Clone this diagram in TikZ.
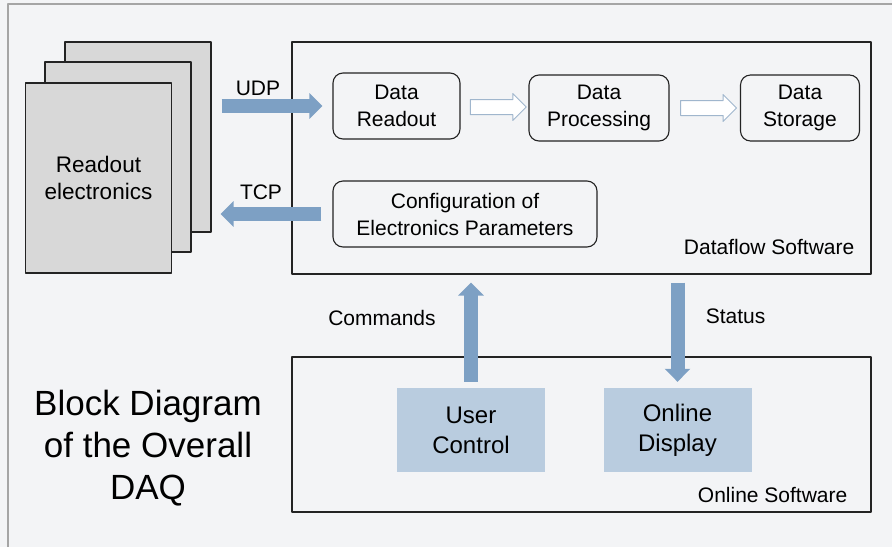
\documentclass[tikz,border=0pt]{standalone}
\usepackage{fontspec}
\setmainfont{Liberation Sans}
\usetikzlibrary{arrows.meta,shapes.arrows}
\definecolor{bgc}{RGB}{243,244,246}
\definecolor{framec}{RGB}{165,165,165}
\definecolor{pagec}{RGB}{216,216,216}
\definecolor{arrc}{RGB}{125,160,196}
\definecolor{boxc}{RGB}{185,204,223}
\definecolor{hollc}{RGB}{160,182,205}
\definecolor{linec}{RGB}{35,35,35}
\tikzset{
	page/.style={draw=linec, line width=1.1pt, fill=pagec, minimum width=146pt, minimum height=190pt, inner sep=0pt},
	swarea/.style={draw=linec, line width=1.1pt, fill=none, inner sep=0pt},
	stage/.style={draw=linec, line width=1.1pt, rounded corners=10pt, align=center, minimum height=66pt, inner sep=0pt},
	gui/.style={fill=boxc, align=center, minimum width=148pt, minimum height=84pt, font=\fontsize{24}{30}\selectfont},
	bigarrow/.style={draw=arrc, line width=14pt, -{Triangle[length=13pt, width=25pt]}},
	hollow/.style={single arrow, draw=hollc, fill=white, line width=1pt, minimum height=56pt, inner xsep=0pt, inner ysep=7pt, single arrow head extend=6pt},
	tag/.style={anchor=base east, inner sep=0pt}
}
\begin{document}
\begin{tikzpicture}[x=1pt, y=-1pt, line join=round, font=\fontsize{21}{27}\selectfont]
	\useasboundingbox (0,0) rectangle (892,547);
	\fill[bgc] (0,0) rectangle (892,547);
	\draw[framec, line width=1.2pt] (8,547) -- (8,4) -- (892,4);
	% readout electronics
	\node[page] (elecback) at (138,137) {};
	\node[page] (elecmid) at (118,157) {};
	\node[page, align=center, font=\fontsize{22.5}{27}\selectfont] (elec) at (98.5,178) {Readout\\electronics};
	% dataflow software
	\node[swarea, minimum width=579pt, minimum height=232pt] (dataflow) at (581.5,158) {};
	\node[stage, minimum width=127pt] (rd) at (396.5,106) {Data\\Readout};
	\node[stage, minimum width=140pt] (proc) at (599,108) {Data\\Processing};
	\node[stage, minimum width=119pt] (stor) at (800,108) {Data\\Storage};
	\node[stage, minimum width=264pt] (cfg) at (465,214) {Configuration of\\Electronics Parameters};
	\node[tag] at ([xshift=-17pt, yshift=20pt]dataflow.south east) {Dataflow Software};
	\path (rd.east) -- (proc.west) node[midway, hollow] {};
	\path (proc.east) -- (stor.west) node[midway, hollow] {};
	% online software
	\node[swarea, minimum width=579pt, minimum height=155pt] (online) at (581.5,434.5) {};
	\node[gui] (uc) at (471,430) {User\\Control};
	\node[gui] (od) at (677.5,430) {Online\\Display};
	\node[tag] at ([xshift=-24pt, yshift=10pt]online.south east) {Online Software};
	% links
	\draw[bigarrow, shorten <=10pt, shorten >=10pt] (elecback.east |- rd.west) -- (rd.west)
		node[midway, yshift=18pt, xshift=-14pt] {UDP};
	\draw[bigarrow, shorten <=11pt, shorten >=9pt] (cfg.west) -- (elecback.east |- cfg.west)
		node[midway, yshift=22pt, xshift=-11pt] {TCP};
	\draw[bigarrow, shorten <=6pt, shorten >=8pt] (uc.north) -- (uc.north |- dataflow.south)
		node[midway, left=25pt, yshift=13pt] {Commands};
	\draw[bigarrow, shorten <=8pt, shorten >=6pt] (od.north |- dataflow.south) -- (od.north)
		node[midway, right=18pt, yshift=15pt] {Status};
	% title
	\node[align=center, font=\fontsize{35}{42}\selectfont] (title) at (148,448) {Block Diagram\\of the Overall\\DAQ};
\end{tikzpicture}
\end{document}
